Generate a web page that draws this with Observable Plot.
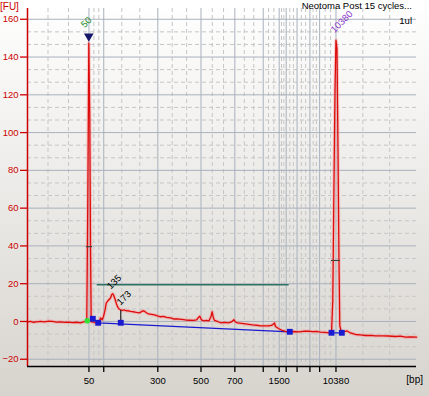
<!DOCTYPE html>
<html><head><meta charset="utf-8">
<script src="https://cdn.jsdelivr.net/npm/d3@7"></script>
<script src="https://cdn.jsdelivr.net/npm/@observablehq/plot@0.6"></script>
<style>
html,body{margin:0;padding:0;}
body{width:429px;height:396px;overflow:hidden;background:linear-gradient(#ffffff,#d7d4ce);position:relative;font-family:"Liberation Sans Narrow","Liberation Sans",Arial,sans-serif;}
#chart{position:absolute;left:0;top:0;}
.lbl{position:absolute;font-size:9.5px;line-height:1;white-space:nowrap;color:#000;}
</style></head><body>
<div id="chart"></div>
<div class="lbl" style="left:0;top:2px;color:#cc0000;font-size:10px">[FU]</div>
<div class="lbl" id="title" style="right:17px;top:1px;font-family:'Liberation Sans',Arial,sans-serif;">Neotoma Post 15 cycles...</div>
<div class="lbl" style="right:17px;top:16px;font-family:'Liberation Sans',Arial,sans-serif;">1ul</div>
<div class="lbl" style="right:6px;top:375px;font-family:'Liberation Sans',Arial,sans-serif;font-size:10px">[bp]</div>
<script>
// ---- data ----
// ladder (bp) and migration times (s)
const ladderBp   = [50, 100, 300, 500, 700, 1000, 1500, 2000, 3000, 5000, 7000, 10380];
const ladderTime = [30.8, 34.6, 48.5, 59.6, 68.3, 75.6, 79.7, 81.5, 84.3, 87.6, 90.1, 94.3];
const labeledBp  = [50, 300, 500, 700, 1500, 10380];
const yTicks = [-20, 0, 20, 40, 60, 80, 100, 120, 140, 160];

// electropherogram trace: time (s) and fluorescence (FU)
const traceTime = [15.0,15.77,16.54,17.31,18.34,19.37,20.40,21.43,22.46,23.48,
24.51,25.54,26.57,27.60,28.62,29.40,29.91,30.24,30.50,30.76,
31.01,31.20,31.37,31.68,32.22,32.92,33.38,33.77,34.20,34.54,
34.92,35.23,35.57,35.90,36.34,36.67,36.93,37.19,37.49,37.88,
38.21,38.52,38.91,39.42,39.94,40.45,40.96,41.48,42.25,43.02,
43.79,44.49,44.90,45.46,46.11,46.88,47.65,48.42,49.19,49.96,
50.73,51.76,52.53,53.56,54.59,55.62,56.64,57.67,58.44,58.96,
59.29,59.73,60.37,61.01,61.66,62.17,62.48,62.76,63.07,63.84,
64.61,65.64,66.67,67.44,68.03,68.47,68.98,70.01,71.04,71.89,
72.84,73.87,74.90,75.93,76.95,77.72,78.24,78.50,78.75,79.52,
80.47,81.32,82.35,83.38,84.66,85.95,87.24,88.26,89.29,90.32,
91.35,92.38,93.15,93.48,93.74,94.05,94.30,94.56,94.82,95.07,
95.28,95.71,96.23,97.18,98.03,99.32,100.60,101.89,103.17,104.46,
106.18,107.80,109.60,110.89,112.17,113.46,115.00];
const traceFU = [-0.16,0,-0.42,-0.16,0.1,-0.26,0.21,0,-0.37,-0.16,
-0.53,-0.32,-0.64,-0.42,-0.69,-0.26,0,0.37,64.1,147.3,
109.1,39.7,-0.26,-0.26,-0.53,-1.22,-0.79,1.85,0.9,2.65,
5.83,9.70,10.6,11.5,12.45,14.3,14.68,13.77,11.92,9.27,
7.58,6.62,6.20,5.83,6.09,5.56,5.67,5.30,5.14,4.77,
4.50,5.46,5.67,4.77,3.97,3.71,3.44,2.91,2.49,2.65,
2.12,1.85,1.32,1.32,1.06,0.79,0.64,0.53,0.79,2.12,
2.81,0.79,0.37,0.53,0.37,2.65,5.14,2.12,0.53,0,
-0.69,-0.53,-0.79,-0.26,0.90,-0.26,-0.79,-1.06,-1.32,-1.59,
-1.85,-2.01,-2.28,-2.28,-2.38,-2.12,-1.32,-0.79,-2.65,-3.71,
-4.77,-5.19,-5.46,-5.30,-5.46,-5.19,-5.14,-5.40,-5.30,-5.67,
-5.72,-5.99,-5.99,11.1,64.1,122.4,148.9,144.6,90.6,32.3,
-2.12,-5.83,-5.56,-5.03,-6.09,-6.89,-7.15,-7.42,-7.31,-7.58,
-7.58,-7.68,-7.95,-7.79,-8.32,-8.21,-8.32];

// baseline / peak-boundary markers
const baseTime = [31.79, 33.17, 38.98, 82.43, 93.15, 95.80];
const baseFU   = [1.43, -0.69, -0.69, -5.46, -5.99, -5.99];
const baseSeg  = [0, 0, 0, 0, 1, 1];
const greenTime = [30.35], greenFU = [0.37];

// smear region line
const smearStart = 32.92, smearEnd = 82.27, smearFU = 19.44;

// peak labels
const peakLabels = ["50", "135", "173", "10380"];
const peakTime   = [30.76, 36.93, 38.91, 94.30];
const peakFU     = [147.3, 14.68, 6.20, 148.9];
const markerTime = [30.76], markerFU = [151.0];
const halfTime1 = [30.14, 93.15], halfTime2 = [31.71, 95.46], halfFU = [39.6, 32.3];

// ---- build ----
const xDomain = [15, 115], yDomain = [-23.84, 165.7];
const trace = traceTime.map((t, i) => ({t, fu: traceFU[i]}));
const base = baseTime.map((t, i) => ({t, fu: baseFU[i], seg: baseSeg[i]}));
const baseLine = base.filter((d, i) => i !== 2);
const labelMap = new Map(ladderTime.map((t, i) => [t, labeledBp.includes(ladderBp[i]) ? String(ladderBp[i]) : ""]));

function thirds(arr) {
  const out = [];
  for (let i = 0; i < arr.length - 1; i++) {
    const a = arr[i], b = arr[i + 1];
    out.push(a + (b - a) / 3, a + 2 * (b - a) / 3);
  }
  return out;
}
const xMinor = thirds([xDomain[0], ...ladderTime, xDomain[1]]);
const yMinor = thirds(yTicks).filter(v => v > yDomain[0] && v < yDomain[1]);

const labels = peakLabels.map((s, i) => ({s, t: peakTime[i], fu: peakFU[i]}));
const labelStyle = [
  {fill: "#2a8c2a", dx: -4, dy: -15},
  {fill: "#000", dx: -2, dy: -4},
  {fill: "#000", dx: 0, dy: -4},
  {fill: "#8a3cc8", dx: -1.5, dy: -7}
];

const chart = Plot.plot({
  width: 429, height: 396,
  marginLeft: 27, marginRight: 13, marginTop: 8, marginBottom: 30,
  style: {background: "transparent", fontFamily: "'Liberation Sans Narrow','Liberation Sans',Arial,sans-serif", fontSize: "9.5px", overflow: "visible"},
  x: {domain: xDomain, axis: null},
  y: {domain: yDomain, axis: null},
  marks: [
    Plot.ruleY(yMinor, {stroke: "#c6c6c6", strokeDasharray: "4,3"}),
    Plot.ruleX(xMinor, {stroke: "#c6c6c6", strokeDasharray: "4,3"}),
    Plot.ruleY(yTicks, {stroke: "#a9b1bd"}),
    Plot.ruleX(ladderTime, {stroke: "#a9b1bd"}),
    Plot.ruleY([smearFU], {x1: smearStart, x2: smearEnd, stroke: "#2e7461", strokeWidth: 1.3}),
    Plot.line(trace, {x: "t", y: "fu", stroke: "#ff8a8a", strokeWidth: 3.5, strokeOpacity: 0.4}),
    Plot.line(baseLine, {x: "t", y: "fu", z: "seg", stroke: "#1a1ad0", strokeWidth: 1.3}),
    Plot.line(trace, {x: "t", y: "fu", stroke: "#dd0c0c", strokeWidth: 1.3}),
    Plot.ruleX([base[2]], {x: "t", y1: peakFU[2] - 0.4, y2: "fu", stroke: "#000", strokeWidth: 1}),
    Plot.ruleY(halfFU.map((fu, i) => ({fu, a: halfTime1[i], b: halfTime2[i]})), {y: "fu", x1: "a", x2: "b", stroke: "#444", strokeWidth: 1.2}),
    Plot.dot(base, {x: "t", y: "fu", symbol: "square", r: 3.3, fill: "#1a1ad0", stroke: "none"}),
    Plot.dot(greenTime.map((t, i) => ({t, fu: greenFU[i]})), {x: "t", y: "fu", r: 2.8, fill: "#33e033", stroke: "none"}),
    Plot.dot(markerTime.map((t, i) => ({t, fu: markerFU[i]})), {x: "t", y: "fu", symbol: "triangle", r: 3.6, rotate: 180, fill: "#16166b", stroke: "none"}),
    ...labels.map((d, i) => Plot.text([d], {x: "t", y: "fu", text: "s", rotate: -45, textAnchor: "start", lineAnchor: "bottom", fontSize: 9.5, ...labelStyle[i]})),
    Plot.ruleX([xDomain[0]], {stroke: "#cc0000", strokeWidth: 1.5}),
    Plot.ruleY([yDomain[0]], {stroke: "#000", strokeWidth: 1.5}),
    Plot.axisY(yTicks, {anchor: "left", tickSize: 7, tickPadding: 2, color: "#cc0000", fill: "#cc0000", stroke: "#cc0000", strokeWidth: 1.3, fontSize: 9.5, label: null}),
    Plot.axisX(ladderTime, {anchor: "bottom", tickSize: 6, tickPadding: 4.5, tickFormat: t => labelMap.get(t), strokeWidth: 1.3, fontSize: 9.5, label: null, color: "#000"})
  ]
});
document.getElementById("chart").appendChild(chart);
</script>
</body></html>
